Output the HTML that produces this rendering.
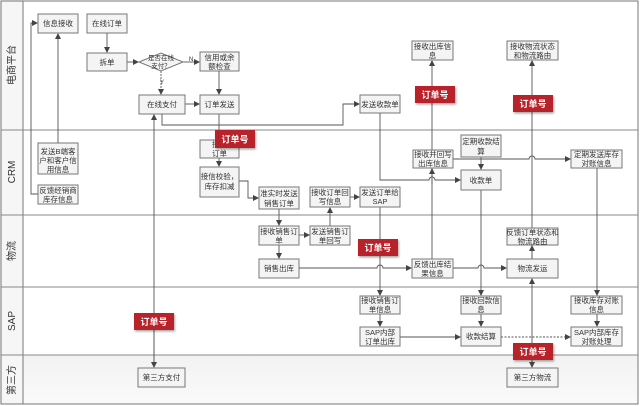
<!DOCTYPE html>
<html><head><meta charset="utf-8"><style>
html,body{margin:0;padding:0;background:#fff;}
svg{display:block;}
text{font-family:"Liberation Sans","Noto Sans CJK SC",sans-serif;font-size:7.5px;fill:#333;}
.b{fill:#f4f4f4;stroke:#777;stroke-width:1;}
.l{stroke:#555;stroke-width:0.9;fill:none;}
.r{fill:#b8242a;}
.rt{fill:#fff;font-size:9px;font-weight:bold;}
.ln{font-size:10px;fill:#333;}
</style></head><body>
<svg width="640" height="406" viewBox="0 0 640 406">
<defs>
<marker id="a" markerWidth="6" markerHeight="6" refX="5" refY="3" orient="auto" markerUnits="userSpaceOnUse"><path d="M0,0 L6,3 L0,6 z" fill="#444"/></marker>
<linearGradient id="g" x1="0" y1="0" x2="0" y2="1"><stop offset="0" stop-color="#f2f2f2"/><stop offset="1" stop-color="#fafafa"/></linearGradient>
<filter id="s"><feDropShadow dx="1" dy="1.5" stdDeviation="1" flood-opacity="0.35"/></filter>
</defs>
<rect x="0" y="0" width="640" height="406" fill="#fff"/>
<rect x="23" y="355" width="615" height="49" fill="url(#g)"/>
<rect x="0" y="0" width="23" height="404" fill="#f6f6f6"/>
<rect x="1" y="1" width="637" height="403" fill="none" stroke="#777" stroke-width="1"/>
<line x1="23" y1="1" x2="23" y2="404" stroke="#777"/>
<line x1="1" y1="130" x2="638" y2="130" stroke="#888"/>
<line x1="1" y1="215" x2="638" y2="215" stroke="#888"/>
<line x1="1" y1="287" x2="638" y2="287" stroke="#888"/>
<line x1="1" y1="355" x2="638" y2="355" stroke="#888"/>
<text class="ln" transform="translate(15,65) rotate(-90)" text-anchor="middle">电商平台</text>
<text class="ln" transform="translate(15,172) rotate(-90)" text-anchor="middle">CRM</text>
<text class="ln" transform="translate(15,251) rotate(-90)" text-anchor="middle">物流</text>
<text class="ln" transform="translate(15,321) rotate(-90)" text-anchor="middle">SAP</text>
<text class="ln" transform="translate(15,380) rotate(-90)" text-anchor="middle">第三方</text>

<line class="l" x1="107" y1="33" x2="107" y2="52" marker-end="url(#a)"/>
<line class="l" x1="127" y1="62" x2="138" y2="62" marker-end="url(#a)"/>
<line class="l" x1="183" y1="62" x2="199" y2="62" marker-end="url(#a)"/>
<text x="189" y="61" style="font-size:6px">N</text>
<line class="l" x1="161" y1="71" x2="161" y2="94" stroke-dasharray="2,1" marker-end="url(#a)"/>
<text x="160" y="84" style="font-size:6px">Y</text>
<line class="l" x1="219" y1="71" x2="219" y2="94" marker-end="url(#a)"/>
<line class="l" x1="185" y1="104" x2="199" y2="104" marker-end="url(#a)"/>
<polyline class="l" points="162,114 162,125 343,125 343,104 359,104" marker-end="url(#a)"/>
<line class="l" x1="219" y1="114" x2="219" y2="139" marker-end="url(#a)"/>
<line class="l" x1="219" y1="158" x2="219" y2="166" marker-end="url(#a)"/>
<polyline class="l" points="239,181 248,181 248,198 258,198" marker-end="url(#a)"/>
<line class="l" x1="58" y1="143" x2="58" y2="34" marker-end="url(#a)"/>
<polyline class="l" points="38,194 31,194 31,23 37,23" marker-end="url(#a)"/>
<line class="l" x1="154" y1="365" x2="154" y2="115" marker-end="url(#a)"/>
<line class="l" x1="154" y1="330" x2="154" y2="367" marker-end="url(#a)"/>
<line class="l" x1="279" y1="209" x2="279" y2="225" marker-end="url(#a)"/>
<line class="l" x1="279" y1="245" x2="279" y2="258" marker-end="url(#a)"/>
<line class="l" x1="299" y1="235" x2="309" y2="235" marker-end="url(#a)"/>
<line class="l" x1="330" y1="226" x2="330" y2="208" marker-end="url(#a)"/>
<line class="l" x1="350" y1="197" x2="359" y2="197" marker-end="url(#a)"/>
<line class="l" x1="380" y1="207" x2="380" y2="295" marker-end="url(#a)"/>
<line class="l" x1="380" y1="314" x2="380" y2="326" marker-end="url(#a)"/>
<path class="l" d="M299,268 L377,268 A3,3 0 0 1 383,268 L411,268" marker-end="url(#a)"/>
<path class="l" d="M453,268 L478,268 A3,3 0 0 1 484,268 L506,268" marker-end="url(#a)"/>
<path class="l" d="M380,113 L380,180 L429,180 A3,3 0 0 1 435,180 L460,180" marker-end="url(#a)"/>
<line class="l" x1="432" y1="259" x2="432" y2="61" marker-end="url(#a)"/>
<line class="l" x1="432" y1="185" x2="432" y2="169" marker-end="url(#a)"/>
<path class="l" d="M453,159 L529,159 A3,3 0 0 1 535,159 L570,159" marker-end="url(#a)"/>
<line class="l" x1="481" y1="157" x2="481" y2="169" marker-end="url(#a)"/>
<line class="l" x1="481" y1="190" x2="481" y2="295" marker-end="url(#a)"/>
<line class="l" x1="481" y1="314" x2="481" y2="326" marker-end="url(#a)"/>
<line class="l" x1="532" y1="259" x2="532" y2="61" marker-end="url(#a)"/>
<line class="l" x1="532" y1="259" x2="532" y2="246" marker-end="url(#a)"/>
<line class="l" x1="532" y1="367" x2="532" y2="279" marker-end="url(#a)"/>
<line class="l" x1="532" y1="345" x2="532" y2="367" marker-end="url(#a)"/>
<line class="l" x1="597" y1="168" x2="597" y2="295" marker-end="url(#a)"/>
<line class="l" x1="597" y1="314" x2="597" y2="326" marker-end="url(#a)"/>
<line class="l" x1="400" y1="337" x2="460" y2="337" marker-end="url(#a)"/>
<line class="l" x1="501" y1="337" x2="570" y2="337" stroke-dasharray="2,1.5" marker-end="url(#a)"/>

<g>
<rect class="b" x="38" y="14" width="40" height="19"/><text x="58" y="26" text-anchor="middle">信息接收</text>
<rect class="b" x="87" y="14" width="40" height="19"/><text x="107" y="26" text-anchor="middle">在线订单</text>
<rect class="b" x="87" y="53" width="40" height="18"/><text x="107" y="65" text-anchor="middle">拆单</text>
<polygon points="139,62 161,53 183,62 161,71" fill="#f4f4f4" stroke="#777"/>
<text x="161" y="60" text-anchor="middle" style="font-size:6.5px">是否在线</text><text x="161" y="68" text-anchor="middle" style="font-size:6.5px">支付？</text>
<rect class="b" x="200" y="52" width="39" height="19"/><text x="219.5" y="60" text-anchor="middle">信用或余</text><text x="219.5" y="69" text-anchor="middle">额检查</text>
<rect class="b" x="139" y="95" width="46" height="19"/><text x="162" y="107" text-anchor="middle">在线支付</text>
<rect class="b" x="200" y="95" width="39" height="19"/><text x="219.5" y="107" text-anchor="middle">订单发送</text>
<rect class="b" x="360" y="95" width="40" height="18"/><text x="380" y="107" text-anchor="middle">发送收款单</text>
<rect class="b" x="412" y="41" width="41" height="19"/><text x="432.5" y="49" text-anchor="middle">接收出库信</text><text x="432.5" y="58" text-anchor="middle">息</text>
<rect class="b" x="507" y="41" width="51" height="19"/><text x="532.5" y="49" text-anchor="middle">接收物流状态</text><text x="532.5" y="58" text-anchor="middle">和物流路由</text>

<rect class="b" x="38" y="143" width="40" height="31"/><text x="58" y="154" text-anchor="middle">发送B端客</text><text x="58" y="163" text-anchor="middle">户和客户信</text><text x="58" y="172" text-anchor="middle">用信息</text>
<rect class="b" x="38" y="185" width="40" height="19"/><text x="58" y="193" text-anchor="middle">反馈经销商</text><text x="58" y="202" text-anchor="middle">库存信息</text>
<rect class="b" x="200" y="140" width="39" height="18"/><text x="219.5" y="147" text-anchor="middle">接收</text><text x="219.5" y="156" text-anchor="middle">订单</text>
<rect class="b" x="200" y="167" width="39" height="30"/><text x="219.5" y="179" text-anchor="middle">接信校验，</text><text x="219.5" y="189" text-anchor="middle">库存扣减</text>
<rect class="b" x="259" y="187" width="40" height="22"/><text x="279" y="196" text-anchor="middle">准实时发送</text><text x="279" y="206" text-anchor="middle">销售订单</text>
<rect class="b" x="310" y="187" width="40" height="20"/><text x="330" y="195" text-anchor="middle">接收订单回</text><text x="330" y="204" text-anchor="middle">写信息</text>
<rect class="b" x="360" y="187" width="40" height="20"/><text x="380" y="195" text-anchor="middle">发送订单给</text><text x="380" y="204" text-anchor="middle">SAP</text>
<rect class="b" x="461" y="135" width="40" height="22"/><text x="481" y="144" text-anchor="middle">定期收款结</text><text x="481" y="154" text-anchor="middle">算</text>
<rect class="b" x="413" y="150" width="40" height="18"/><text x="433" y="157" text-anchor="middle">接收并回写</text><text x="433" y="166" text-anchor="middle">出库信息</text>
<rect class="b" x="461" y="170" width="40" height="20"/><text x="481" y="183" text-anchor="middle">收款单</text>
<rect class="b" x="571" y="150" width="51" height="18"/><text x="596.5" y="157" text-anchor="middle">定期发送库存</text><text x="596.5" y="166" text-anchor="middle">对账信息</text>

<rect class="b" x="259" y="226" width="40" height="19"/><text x="279" y="234" text-anchor="middle">接收销售订</text><text x="279" y="243" text-anchor="middle">单</text>
<rect class="b" x="310" y="226" width="40" height="19"/><text x="330" y="234" text-anchor="middle">发送销售订</text><text x="330" y="243" text-anchor="middle">单回写</text>
<rect class="b" x="259" y="259" width="40" height="19"/><text x="279" y="271" text-anchor="middle">销售出库</text>
<rect class="b" x="412" y="259" width="41" height="19"/><text x="432.5" y="267" text-anchor="middle">反馈出库结</text><text x="432.5" y="276" text-anchor="middle">果信息</text>
<rect class="b" x="507" y="228" width="51" height="17"/><text x="532.5" y="235" text-anchor="middle">反馈订单状态和</text><text x="532.5" y="244" text-anchor="middle">物流路由</text>
<rect class="b" x="507" y="259" width="51" height="19"/><text x="532.5" y="271" text-anchor="middle">物流发运</text>

<rect class="b" x="360" y="296" width="40" height="18"/><text x="380" y="303" text-anchor="middle">接收销售订</text><text x="380" y="312" text-anchor="middle">单信息</text>
<rect class="b" x="360" y="327" width="40" height="19"/><text x="380" y="335" text-anchor="middle">SAP内部</text><text x="380" y="344" text-anchor="middle">订单出库</text>
<rect class="b" x="461" y="296" width="40" height="18"/><text x="481" y="303" text-anchor="middle">接收回款信</text><text x="481" y="312" text-anchor="middle">息</text>
<rect class="b" x="461" y="327" width="40" height="19"/><text x="481" y="339" text-anchor="middle">收款结算</text>
<rect class="b" x="571" y="296" width="51" height="18"/><text x="596.5" y="303" text-anchor="middle">接收库存对账</text><text x="596.5" y="312" text-anchor="middle">信息</text>
<rect class="b" x="571" y="327" width="51" height="19"/><text x="596.5" y="335" text-anchor="middle">SAP内部库存</text><text x="596.5" y="344" text-anchor="middle">对账处理</text>

<rect class="b" x="138" y="368" width="47" height="19"/><text x="161.5" y="380" text-anchor="middle">第三方支付</text>
<rect class="b" x="507" y="368" width="51" height="19"/><text x="532.5" y="380" text-anchor="middle">第三方物流</text>
</g>

<g filter="url(#s)">
<rect class="r" x="215" y="130" width="40" height="18"/>
<rect class="r" x="415" y="86" width="40" height="17"/>
<rect class="r" x="513" y="95" width="40" height="17"/>
<rect class="r" x="358" y="239" width="40" height="17"/>
<rect class="r" x="134" y="313" width="40" height="17"/>
<rect class="r" x="513" y="343" width="40" height="17"/>
</g>
<text class="rt" x="235" y="142.5" text-anchor="middle">订单号</text>
<text class="rt" x="435" y="98" text-anchor="middle">订单号</text>
<text class="rt" x="533" y="107" text-anchor="middle">订单号</text>
<text class="rt" x="378" y="251" text-anchor="middle">订单号</text>
<text class="rt" x="154" y="325" text-anchor="middle">订单号</text>
<text class="rt" x="533" y="355" text-anchor="middle">订单号</text>
</svg>
</body></html>
